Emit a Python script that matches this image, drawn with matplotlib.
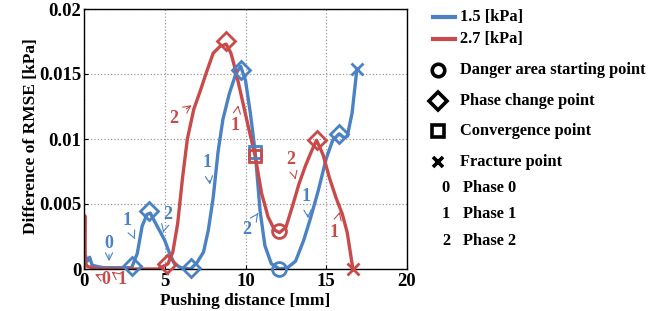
import matplotlib
matplotlib.use("Agg")
import matplotlib.pyplot as plt

plt.rcParams['font.family'] = ['Liberation Serif', 'DejaVu Serif']
plt.rcParams['font.weight'] = 'bold'

BLUE = '#4a82c3'
RED = '#c84a4a'

# 1.5 kPa curve
blue_x = [0.0, 0.1, 0.2, 0.35, 0.5, 0.8, 1.2, 1.6, 2.0, 2.5, 2.95, 3.3, 3.6, 3.9, 4.1, 4.4,
          4.7, 5.0, 5.3, 5.6, 6.0, 6.6, 7.0, 7.4, 7.7, 8.0, 8.3, 8.6, 9.0, 9.4, 9.7, 10.0,
          10.3, 10.6, 10.9, 11.2, 11.6, 12.1, 12.6, 13.1, 13.6, 14.0, 14.5, 15.0, 15.4,
          15.8, 16.1, 16.3, 16.6, 16.9]
blue_y = [0.0012, 0.0010, 0.0006, 0.0009, 0.0003, 0.0002, 0.0001, 0.0001, 0.0001, 0.0001,
          0.0001, 0.0012, 0.0033, 0.0042, 0.0043, 0.0036, 0.0029, 0.0022, 0.0012, 0.0004,
          0.0001, 0.0000, 0.0005, 0.0013, 0.0030, 0.0055, 0.0090, 0.0115, 0.0135, 0.0150,
          0.0156, 0.0145, 0.0120, 0.0090, 0.0045, 0.0018, 0.0004, 0.0000, 0.0001, 0.0006,
          0.0022, 0.0038, 0.0060, 0.0085, 0.0099, 0.0104, 0.0101, 0.0102, 0.0120, 0.0154]

# 2.7 kPa curve
red_x = [0.0, 0.05, 0.08, 0.2, 0.5, 1.0, 2.0, 3.0, 4.0, 4.6, 5.2, 5.5, 5.8, 6.1, 6.4, 6.8,
         7.2, 7.6, 8.0, 8.4, 8.8, 9.1, 9.4, 9.8, 10.2, 10.6, 11.0, 11.4, 11.8, 12.1, 12.5,
         12.9, 13.3, 13.7, 14.1, 14.4, 14.8, 15.2, 15.6, 16.0, 16.3, 16.65]
red_y = [0.0, 0.0041, 0.0005, 0.0002, 0.0001, 0.0, 0.0, 0.0, 0.0, 0.0, 0.0004, 0.0013,
         0.0035, 0.0070, 0.0100, 0.0123, 0.0137, 0.0152, 0.0166, 0.0171, 0.0173, 0.0166,
         0.0152, 0.0130, 0.0108, 0.0087, 0.0058, 0.0040, 0.0030, 0.0028, 0.0032, 0.0048,
         0.0065, 0.0079, 0.0091, 0.0099, 0.0088, 0.0070, 0.0055, 0.0042, 0.0028, 0.0]

# special points
blue_diamond_x = [2.95, 4.05, 6.6, 9.75, 15.8]
blue_diamond_y = [0.0002, 0.0045, 0.0001, 0.0153, 0.0104]
red_diamond_x = [5.15, 8.8, 14.45]
red_diamond_y = [0.0004, 0.0175, 0.0099]
blue_square = (10.6, 0.0090)
red_square = (10.6, 0.0087)
blue_circle = (12.1, 0.0)
red_circle = (12.1, 0.0029)
blue_cross = (16.9, 0.0154)
red_cross = (16.65, 0.0)

# phase labels: (text, text x, text y, arrow x, arrow y, colour)
phase_labels = [
    ('0', 1.55, 0.0020, 1.55, 0.0006, BLUE),
    ('1', 2.64, 0.0037, 3.15, 0.0023, BLUE),
    ('2', 5.18, 0.0042, 4.90, 0.0028, BLUE),
    ('1', 7.63, 0.0082, 7.80, 0.0065, BLUE),
    ('2', 10.06, 0.0030, 10.78, 0.0043, BLUE),
    ('1', 13.77, 0.0056, 13.88, 0.0039, BLUE),
    ('0', 1.36, -0.0008, 0.68, -0.0004, RED),
    ('1', 2.33, -0.0008, 1.71, -0.0002, RED),
    ('2', 5.53, 0.0116, 6.66, 0.0126, RED),
    ('1', 9.34, 0.0110, 9.55, 0.0126, RED),
    ('2', 12.78, 0.0084, 13.10, 0.0069, RED),
    ('1', 15.50, 0.0028, 15.84, 0.0044, RED),
]

legend_series = ['1.5 [kPa]', '2.7 [kPa]']
legend_markers = [('o', 'Danger area starting point'), ('D', 'Phase change point'),
                  ('s', 'Convergence point'), ('x', 'Fracture point')]
legend_phases = [('0', 'Phase 0'), ('1', 'Phase 1'), ('2', 'Phase 2')]

fig = plt.figure(figsize=(6.49, 3.11), dpi=100)
ax = fig.add_axes([84 / 649, 42 / 311, 323 / 649, 260 / 311])

lw = 2.4
ax.plot(blue_x, blue_y, color=BLUE, lw=lw)
ax.plot(red_x, red_y, color=RED, lw=lw)

mk = dict(mfc='none', mew=2.0, ls='none', clip_on=False, zorder=5)
ax.plot(blue_diamond_x, blue_diamond_y, marker='D', ms=9, mec=BLUE, **mk)
ax.plot(red_diamond_x, red_diamond_y, marker='D', ms=9, mec=RED, **mk)
ax.plot(*blue_square, marker='s', ms=9, mec=BLUE, **mk)
ax.plot(*red_square, marker='s', ms=9, mec=RED, **mk)
ax.plot(*blue_circle, marker='o', ms=10, mec=BLUE, **mk)
ax.plot(*red_circle, marker='o', ms=10, mec=RED, **mk)
ax.plot(*blue_cross, marker='x', ms=8, mec=BLUE, **mk)
ax.plot(*red_cross, marker='x', ms=8, mec=RED, **mk)

for s, tx, ty, axx, ayy, c in phase_labels:
    ax.annotate(s, xy=(axx, ayy), xytext=(tx, ty), color=c, fontsize=13,
                fontweight='bold', ha='center', va='center', annotation_clip=False,
                arrowprops=dict(arrowstyle='->', color=c, lw=0.8, shrinkA=5, shrinkB=0))

ax.set_xlim(0, 20)
ax.set_ylim(0, 0.02)
ax.set_xticks([0, 5, 10, 15, 20])
ax.set_yticks([0, 0.005, 0.01, 0.015, 0.02])
ax.set_yticklabels(['0', '0.005', '0.01', '0.015', '0.02'])
ax.tick_params(direction='in', labelsize=13.5, pad=2, length=3)
ax.tick_params(axis='x', pad=3)
ax.grid(True, ls=':', color='#999999', lw=0.9)
ax.set_xlabel('Pushing distance [mm]', fontsize=12.5, fontweight='bold')
ax.xaxis.set_label_coords(0.5, -0.092)
ax.set_ylabel('Difference of RMSE [kPa]', fontsize=12.5, fontweight='bold')
ax.yaxis.set_label_coords(-0.138, 0.51)
for sp in ax.spines.values():
    sp.set_linewidth(1.0)

# legend drawn in pixel coordinates on an overlay axes
lg = fig.add_axes([0, 0, 1, 1])
lg.set_xlim(0, 649)
lg.set_ylim(311, 0)
lg.axis('off')
fs = 11.8
for i, (lab, c) in enumerate(zip(legend_series, [BLUE, RED])):
    y = 17 + 22 * i
    lg.plot([433, 455], [y, y], color=c, lw=3)
    lg.text(460, y, lab, fontsize=fs, va='center', ha='left')
for i, (m, lab) in enumerate(legend_markers):
    y = 70 + 30.7 * i
    lg.plot(438, y, marker=m, ms=9 if m != 'x' else 7, mfc='none', mec='black',
            mew=2.6, ls='none')
    lg.text(460, y, lab, fontsize=fs, va='center', ha='left')
for i, (d, lab) in enumerate(legend_phases):
    y = 188 + 26.5 * i
    lg.text(446, y, d, fontsize=fs, va='center', ha='center')
    lg.text(463, y, lab, fontsize=fs, va='center', ha='left')

fig.savefig('out.png', dpi=100)
